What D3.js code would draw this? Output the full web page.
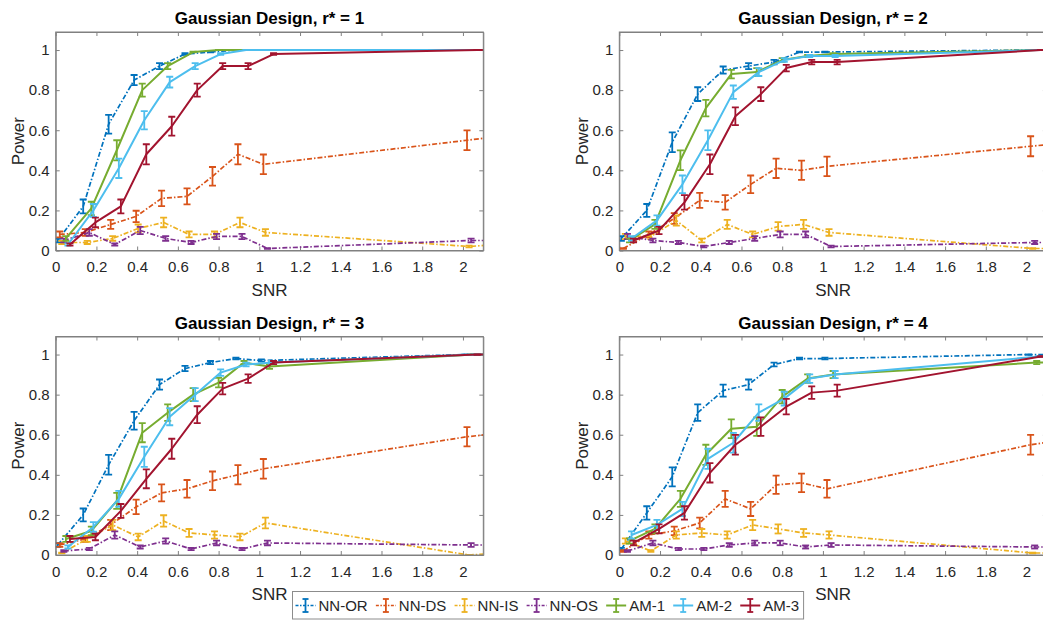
<!DOCTYPE html>
<html><head><meta charset="utf-8">
<script src="https://cdn.jsdelivr.net/npm/d3@7"></script>
<style>
body{margin:0;background:#fff;}
svg{display:block;font-family:"Liberation Sans",Arial,Helvetica,sans-serif;}
</style>
</head><body>
<svg id="chart" width="1043" height="623"></svg>
<script>
// ---------------- data ----------------
const seriesNames  = ["NN-OR","NN-DS","NN-IS","NN-OS","AM-1","AM-2","AM-3"];
const seriesColors = ["#0072BD","#D95319","#EDB120","#7E2F8E","#77AC30","#4DBEEE","#A2142F"];
const seriesDashDot = [true,true,true,true,false,false,false];
// SNR grid; each method is shifted slightly so its error bars do not overlap
const snrBase   = [0, 0.125, 0.25, 0.375, 0.5, 0.625, 0.75, 0.875, 1.0, 2.0, 3.0];
const snrJitter = [0.01, 0.02, 0.03, 0.04, 0.05, 0.06, 0.07];
const nTrials = 25;   // error bar half-length = p(1-p)/sqrt(nTrials)
const panelTitles = ["Gaussian Design, r* = 1","Gaussian Design, r* = 2","Gaussian Design, r* = 3","Gaussian Design, r* = 4"];
const xTicks = [0,0.2,0.4,0.6,0.8,1,1.2,1.4,1.6,1.8,2];
const yTicks = [0,0.2,0.4,0.6,0.8,1];
const xLabel = "SNR", yLabel = "Power";

// rows: NN-OR, NN-DS, NN-IS, NN-OS, AM-1, AM-2, AM-3 (last value lies beyond the x-axis limit)
const powerR1 = [
  [0.05,0.22,0.63,0.85,0.92,0.98,0.99,1.00,1.00,1.00,1.00],
  [0.08,0.09,0.13,0.17,0.26,0.27,0.37,0.48,0.43,0.55,0.67],
  [0.04,0.04,0.06,0.11,0.14,0.08,0.08,0.14,0.09,0.02,0.09],
  [0.05,0.09,0.03,0.10,0.06,0.04,0.07,0.07,0.01,0.05,0.05],
  [0.06,0.21,0.50,0.80,0.92,0.99,1.00,1.00,1.00,1.00,1.00],
  [0.03,0.20,0.41,0.65,0.84,0.92,0.98,1.00,1.00,1.00,1.00],
  [0.03,0.14,0.22,0.48,0.62,0.80,0.92,0.92,0.98,1.00,1.00]
];
const powerR2 = [
  [0.06,0.20,0.54,0.78,0.90,0.92,0.94,0.99,0.99,1.00,1.00],
  [0.01,0.08,0.16,0.25,0.24,0.33,0.41,0.40,0.42,0.52,0.62],
  [0.07,0.07,0.15,0.05,0.13,0.08,0.12,0.13,0.09,0.01,0.01],
  [0.07,0.05,0.04,0.02,0.04,0.06,0.08,0.08,0.02,0.04,0.04],
  [0.05,0.13,0.45,0.71,0.88,0.89,0.95,0.97,0.98,1.00,1.00],
  [0.06,0.15,0.33,0.55,0.79,0.89,0.95,0.97,0.97,1.00,1.00],
  [0.05,0.10,0.24,0.43,0.67,0.78,0.91,0.94,0.94,1.00,1.00]
];
const powerR3 = [
  [0.05,0.20,0.45,0.67,0.85,0.93,0.96,0.98,0.97,1.00,1.00],
  [0.05,0.08,0.15,0.24,0.31,0.33,0.37,0.40,0.43,0.59,0.70],
  [0.01,0.08,0.15,0.09,0.17,0.11,0.10,0.09,0.16,0.00,0.06],
  [0.02,0.03,0.10,0.04,0.07,0.03,0.06,0.03,0.06,0.05,0.05],
  [0.08,0.12,0.27,0.61,0.71,0.80,0.86,0.96,0.94,1.00,1.00],
  [0.04,0.14,0.28,0.49,0.69,0.80,0.91,0.95,0.96,1.00,1.00],
  [0.08,0.09,0.22,0.38,0.53,0.70,0.83,0.88,0.96,1.00,1.00]
];
const powerR4 = [
  [0.03,0.21,0.39,0.71,0.82,0.85,0.95,0.98,0.98,1.00,1.00],
  [0.02,0.10,0.12,0.16,0.28,0.23,0.35,0.36,0.33,0.55,0.70],
  [0.07,0.02,0.10,0.11,0.10,0.15,0.13,0.11,0.10,0.01,0.01],
  [0.02,0.06,0.03,0.03,0.05,0.06,0.06,0.04,0.05,0.04,0.04],
  [0.07,0.13,0.28,0.50,0.63,0.64,0.79,0.88,0.90,0.96,0.96],
  [0.10,0.15,0.23,0.48,0.56,0.71,0.78,0.88,0.90,0.99,1.00],
  [0.06,0.13,0.21,0.41,0.55,0.64,0.74,0.81,0.82,0.99,1.00]
];
const panelValues = [powerR1, powerR2, powerR3, powerR4];

// ---------------- layout ----------------
const panelOrigins = [[55.7,32],[619.3,32],[55.7,336.5],[619.3,336.5]];
const PW = 427.6, PH = 218.5;
const axisGray = "#808080", textGray = "#262626";
const DASHDOT = "5,2,1.5,2";

const svg = d3.select("#chart");
const defs = svg.append("defs");

panelValues.forEach((vals, p) => {
  const [ox, oy] = panelOrigins[p];
  const x = d3.scaleLinear().domain([0, 2.1]).range([0, PW]);
  const y = d3.scaleLinear().domain([0, 1.09]).range([PH, 0]);
  const g = svg.append("g").attr("transform", `translate(${ox},${oy})`);

  defs.append("clipPath").attr("id", "clip" + p)
    .append("rect").attr("x", 0).attr("y", 0).attr("width", PW).attr("height", PH);

  const fmt = d3.format("~g");
  const xa = g.append("g").attr("transform", `translate(0,${PH})`)
    .call(d3.axisBottom(x).tickValues(xTicks).tickSizeInner(-4).tickSizeOuter(0).tickPadding(11).tickFormat(fmt));
  const ya = g.append("g")
    .call(d3.axisLeft(y).tickValues(yTicks).tickSizeInner(-4).tickSizeOuter(0).tickPadding(6).tickFormat(fmt));
  const xt = g.append("g").call(d3.axisTop(x).tickValues(xTicks).tickSizeInner(-4).tickSizeOuter(0).tickFormat(""));
  const yr = g.append("g").attr("transform", `translate(${PW},0)`)
    .call(d3.axisRight(y).tickValues(yTicks).tickSizeInner(-4).tickSizeOuter(0).tickFormat(""));
  [xa, ya, xt, yr].forEach(a => {
    a.select(".domain").attr("stroke", axisGray).attr("stroke-width", 1);
    a.selectAll(".tick line").attr("stroke", axisGray).attr("stroke-width", 1);
    a.selectAll(".tick text").attr("fill", textGray).style("font-size", "15px")
      .style("font-family", '"Liberation Sans",Arial,sans-serif');
  });

  const plot = g.append("g").attr("clip-path", `url(#clip${p})`);
  vals.forEach((row, s) => {
    const pts = row.map((v, i) => ({snr: snrBase[i] + snrJitter[s], v}));
    const color = seriesColors[s];
    plot.append("path").datum(pts)
      .attr("fill", "none").attr("stroke", color)
      .attr("stroke-width", seriesDashDot[s] ? 1.7 : 2)
      .attr("stroke-dasharray", seriesDashDot[s] ? DASHDOT : null)
      .attr("stroke-linejoin", "round")
      .attr("d", d3.line().x(d => x(d.snr)).y(d => y(d.v)));
    const eb = plot.append("g").attr("stroke", color).attr("stroke-width", 1.8).attr("fill", "none");
    pts.forEach(d => {
      const e = d.v * (1 - d.v) / Math.sqrt(nTrials);
      const cx = x(d.snr), y1 = y(Math.max(0, d.v - e)), y2 = y(d.v + e);
      eb.append("line").attr("x1", cx).attr("x2", cx).attr("y1", y1).attr("y2", y2);
      eb.append("line").attr("x1", cx - 3.5).attr("x2", cx + 3.5).attr("y1", y1).attr("y2", y1);
      eb.append("line").attr("x1", cx - 3.5).attr("x2", cx + 3.5).attr("y1", y2).attr("y2", y2);
    });
  });

  g.append("rect").attr("x", 0).attr("y", 0).attr("width", PW).attr("height", PH)
    .attr("fill", "none").attr("stroke", axisGray).attr("stroke-width", 1);

  g.append("text").attr("x", PW / 2).attr("y", -8).attr("text-anchor", "middle")
    .style("font-size", "17px").style("font-weight", "bold").attr("fill", "#000")
    .text(panelTitles[p]);
  g.append("text").attr("x", PW / 2).attr("y", PH + 45).attr("text-anchor", "middle")
    .style("font-size", "17px").attr("fill", textGray).text(xLabel);
  g.append("text").attr("transform", `translate(-31.7,${PH / 2}) rotate(-90)`)
    .attr("text-anchor", "middle").style("font-size", "17px").attr("fill", textGray).text(yLabel);
});

// ---------------- legend ----------------
const lg = svg.append("g");
const legY = 605.5;
const legBox = lg.append("rect").attr("x", 292.5).attr("y", 591.5).attr("height", 27.5)
  .attr("fill", "#fff").attr("stroke", "#8c8c8c").attr("stroke-width", 1);
let lx = 295.5;
seriesNames.forEach((name, s) => {
  const c = seriesColors[s];
  lg.append("line").attr("x1", lx).attr("x2", lx + 20).attr("y1", legY).attr("y2", legY)
    .attr("stroke", c).attr("stroke-width", seriesDashDot[s] ? 1.7 : 2)
    .attr("stroke-dasharray", seriesDashDot[s] ? "3,1.5,1.5,1.5" : null);
  const mx = lx + 10;
  lg.append("line").attr("x1", mx).attr("x2", mx).attr("y1", legY - 6.5).attr("y2", legY + 6.5).attr("stroke", c).attr("stroke-width", 1.8);
  lg.append("line").attr("x1", mx - 3).attr("x2", mx + 3).attr("y1", legY - 6.5).attr("y2", legY - 6.5).attr("stroke", c).attr("stroke-width", 1.8);
  lg.append("line").attr("x1", mx - 3).attr("x2", mx + 3).attr("y1", legY + 6.5).attr("y2", legY + 6.5).attr("stroke", c).attr("stroke-width", 1.8);
  const t = lg.append("text").attr("x", lx + 23).attr("y", legY + 5.4)
    .style("font-size", "15px").attr("fill", textGray).text(name);
  const w = t.node().getComputedTextLength();
  lx = lx + 23 + w + 8.2;
});
legBox.attr("width", lx - 8.2 + 4.5 - 292.5);
</script>
</body></html>
